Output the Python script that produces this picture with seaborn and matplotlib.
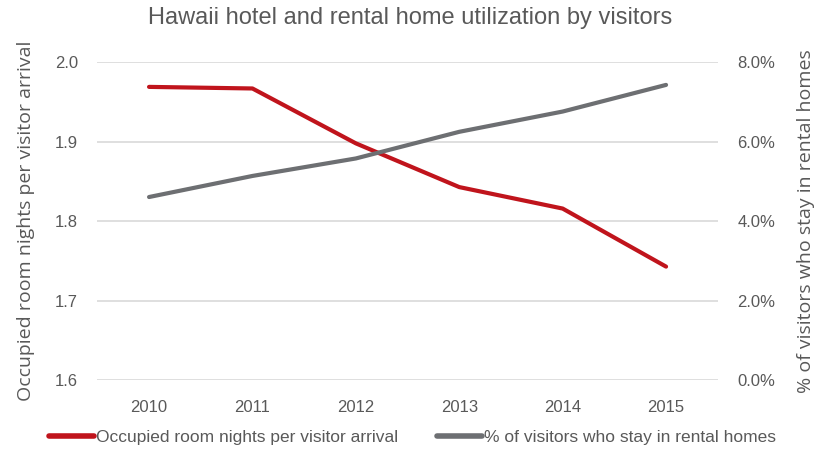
import pandas as pd
import seaborn as sns
import matplotlib.pyplot as plt
from matplotlib.ticker import PercentFormatter
from matplotlib.lines import Line2D

# data
years = ['2010', '2011', '2012', '2013', '2014', '2015']
room_nights = [1.969, 1.967, 1.898, 1.843, 1.816, 1.743]
rental_share = [4.61, 5.14, 5.58, 6.25, 6.76, 7.43]

red = '#C0141C'
grey = '#6D6F72'
text_grey = '#595959'

sns.set_theme(style='white')
plt.rcParams['font.family'] = ['Liberation Sans Narrow', 'Liberation Sans', 'DejaVu Sans']

df = pd.DataFrame({'year': years, 'room_nights': room_nights, 'rental_share': rental_share})

fig, ax = plt.subplots(figsize=(8.25, 4.61), dpi=100)
fig.subplots_adjust(left=0.118, right=0.870, top=0.865, bottom=0.175)
ax2 = ax.twinx()

# gray series drawn above the red one, as in the reference
sns.lineplot(data=df, x='year', y='room_nights', ax=ax, color=red, linewidth=3, sort=False)
sns.lineplot(data=df, x='year', y='rental_share', ax=ax2, color=grey, linewidth=3, sort=False)

ax.set_xlim(-0.5, 5.5)
ax.set_ylim(1.6, 2.0)
ax.set_yticks([1.6, 1.7, 1.8, 1.9, 2.0])
ax.set_yticklabels(['1.6', '1.7', '1.8', '1.9', '2.0'])
ax2.set_ylim(0, 8)
ax2.set_yticks([0, 2, 4, 6, 8])
ax2.yaxis.set_major_formatter(PercentFormatter(decimals=1))

ax.grid(axis='y', color='#D9D9D9', linewidth=1.2)
ax.set_axisbelow(True)
ax2.grid(False)
for a in (ax, ax2):
    for s in a.spines.values():
        s.set_visible(False)
    a.tick_params(length=0, colors=text_grey, labelsize=12)
ax.tick_params(axis='x', pad=14)
ax.tick_params(axis='y', pad=14)
ax2.tick_params(axis='y', pad=14)

ax.set_xlabel('')
ax.set_ylabel('Occupied room nights per visitor arrival', fontsize=14, color=text_grey,
              family=['Open Sans', 'DejaVu Sans'], labelpad=14)
ax2.set_ylabel('% of visitors who stay in rental homes', fontsize=14, color=text_grey,
               family=['Open Sans', 'DejaVu Sans'], labelpad=16)

fig.suptitle('Hawaii hotel and rental home utilization by visitors', fontsize=17,
             color=text_grey, x=0.497, y=0.985)

handles = [Line2D([], [], color=red, linewidth=4), Line2D([], [], color=grey, linewidth=4)]
labels = ['Occupied room nights per visitor arrival', '% of visitors who stay in rental homes']
leg = fig.legend(handles, labels, loc='lower center', bbox_to_anchor=(0.5, 0.0), ncol=2,
                 frameon=False, fontsize=12.5, handlelength=2.6, handletextpad=0.15, columnspacing=2.2)
for t in leg.get_texts():
    t.set_color(text_grey)

fig.savefig('out.png', dpi=100)
